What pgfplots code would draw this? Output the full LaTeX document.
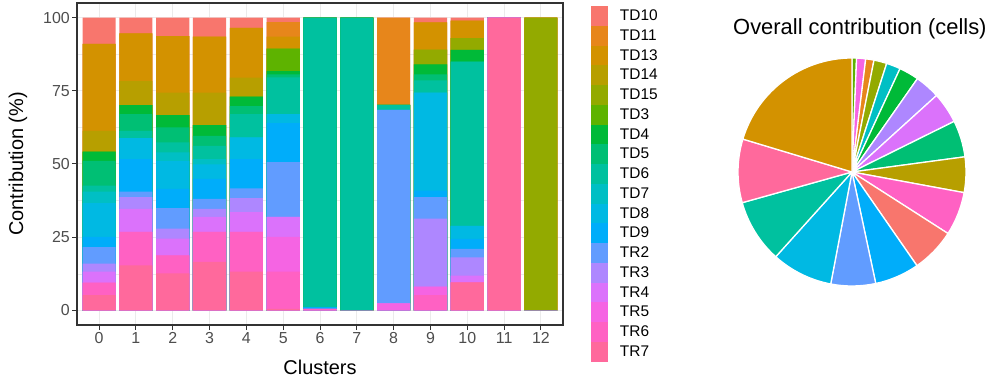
\documentclass[border=0pt]{standalone}
\usepackage{fontspec}
\setmainfont{Liberation Sans}
\usepackage{pgfplots}
\usepackage{pgfplotstable}
\pgfplotsset{compat=1.18}

% ggplot2 hue palette, 18 levels
\definecolor{cTD10}{HTML}{F8766D}
\definecolor{cTD11}{HTML}{E7861B}
\definecolor{cTD13}{HTML}{D39200}
\definecolor{cTD14}{HTML}{B79F00}
\definecolor{cTD15}{HTML}{93AA00}
\definecolor{cTD3}{HTML}{5EB300}
\definecolor{cTD4}{HTML}{00BA38}
\definecolor{cTD5}{HTML}{00BF74}
\definecolor{cTD6}{HTML}{00C19F}
\definecolor{cTD7}{HTML}{00BFC4}
\definecolor{cTD8}{HTML}{00B9E3}
\definecolor{cTD9}{HTML}{00ADFA}
\definecolor{cTR2}{HTML}{619CFF}
\definecolor{cTR3}{HTML}{AE87FF}
\definecolor{cTR4}{HTML}{DB72FB}
\definecolor{cTR5}{HTML}{F564E3}
\definecolor{cTR6}{HTML}{FF61C3}
\definecolor{cTR7}{HTML}{FF699C}
\definecolor{grey20}{HTML}{333333}
\definecolor{grey30}{HTML}{4D4D4D}
\definecolor{grey92}{HTML}{EBEBEB}

% contribution (%) of each sample to each cluster
\pgfplotstableread{
cl TD10 TD11 TD13 TD14 TD15 TD3 TD4 TD5 TD6 TD7 TD8 TD9 TR2 TR3 TR4 TR5 TR6 TR7
0  9.0  0    29.7 7.1  0    0   3.1 8.5 2.0  4.0 11.5 3.5  5.6  2.8  3.7 0    4.3  5.2
1  5.4  0    16.3 8.2  0    0   3.1 5.7 2.5  0   7.1  11.1 1.9  4.0  7.9 0    11.4 15.4
2  6.3  0    19.3 7.7  0    0   4.2 5.1 3.4  3.0 9.5  6.6  7.0  3.4  5.7 0    6.2  12.6
3  6.5  0    19.1 11.1 0    0   3.7 3.4 4.5  1.8 5.0  6.8  3.4  2.8  5.1 0    10.2 16.6
4  3.5  0    17.0 6.5  0    0   3.2 2.8 7.9  0   7.4  10.0 3.4  4.7  6.8 0    13.6 13.2
5  1.5  5.0  4.1  0    0    7.7 1.1 1.0 12.6 0   3.0  13.4 18.7 0    6.8 11.9 12.7 0.5
6  0    0    0    0    0    0   0   0   98.9 0   0    0.6  0    0    0   0    0.5  0
7  0    0    0    0    0    0   0   0   100  0   0    0    0    0    0   0    0    0
8  0    29.8 0    0    0    0   0   0   1.7  0   0    0    66.1 0    0   2.4  0    0
9  1.6  0    9.3  0    5.1  0   3.4 2.0 4.2  0   33.5 2.2  7.4  23.2 0   2.9  5.2  0
10 1.0  0    6.0  0    4.0  0   4.0 0   56.1 0   4.5  3.4  2.9  6.2  2.3 0    0    9.6
11 0    0    0    0    0    0   0   0   0    0   0    0    0    0    0   0    0    100
12 0    0    0    0    100  0   0   0   0    0   0    0    0    0    0   0    0    0
}\bardata

% running totals from the bottom of each bar (TR7) up to each sample
\pgfplotstablecreatecol[expr={\thisrow{TR7}}]{sTR7}\bardata
\pgfplotstablecreatecol[expr={\thisrow{sTR7}+\thisrow{TR6}}]{sTR6}\bardata
\pgfplotstablecreatecol[expr={\thisrow{sTR6}+\thisrow{TR5}}]{sTR5}\bardata
\pgfplotstablecreatecol[expr={\thisrow{sTR5}+\thisrow{TR4}}]{sTR4}\bardata
\pgfplotstablecreatecol[expr={\thisrow{sTR4}+\thisrow{TR3}}]{sTR3}\bardata
\pgfplotstablecreatecol[expr={\thisrow{sTR3}+\thisrow{TR2}}]{sTR2}\bardata
\pgfplotstablecreatecol[expr={\thisrow{sTR2}+\thisrow{TD9}}]{sTD9}\bardata
\pgfplotstablecreatecol[expr={\thisrow{sTD9}+\thisrow{TD8}}]{sTD8}\bardata
\pgfplotstablecreatecol[expr={\thisrow{sTD8}+\thisrow{TD7}}]{sTD7}\bardata
\pgfplotstablecreatecol[expr={\thisrow{sTD7}+\thisrow{TD6}}]{sTD6}\bardata
\pgfplotstablecreatecol[expr={\thisrow{sTD6}+\thisrow{TD5}}]{sTD5}\bardata
\pgfplotstablecreatecol[expr={\thisrow{sTD5}+\thisrow{TD4}}]{sTD4}\bardata
\pgfplotstablecreatecol[expr={\thisrow{sTD4}+\thisrow{TD3}}]{sTD3}\bardata
\pgfplotstablecreatecol[expr={\thisrow{sTD3}+\thisrow{TD15}}]{sTD15}\bardata
\pgfplotstablecreatecol[expr={\thisrow{sTD15}+\thisrow{TD14}}]{sTD14}\bardata
\pgfplotstablecreatecol[expr={\thisrow{sTD14}+\thisrow{TD13}}]{sTD13}\bardata
\pgfplotstablecreatecol[expr={\thisrow{sTD13}+\thisrow{TD11}}]{sTD11}\bardata
\pgfplotstablecreatecol[expr={\thisrow{sTD11}+\thisrow{TD10}}]{sTD10}\bardata

% overall contribution (% of cells), clockwise from 12 o'clock
\pgfplotstableread{
slice pct
TD3  0.64
TR5  1.28
TD11 1.17
TD15 1.83
TD7  2.00
TD4  2.81
TR3  3.56
TR4  4.39
TD5  5.19
TD14 5.03
TR6  6.17
TD10 6.28
TD9  6.31
TR2  6.33
TD8  8.67
TD6  9.00
TR7  9.00
TD13 20.34
}\piedata

\begin{document}
\begin{tikzpicture}
\useasboundingbox (0,0) rectangle (988bp,379bp);

% build the pie slices from the table
\def\pieR{114}
\pgfplotstablegetrowsof{\piedata}
\pgfmathtruncatemacro\lastslice{\pgfplotsretval-1}
\gdef\pieacc{0}
\gdef\pieslices{}
\foreach \i in {0,...,\lastslice}{%
  \pgfplotstablegetelem{\i}{slice}\of\piedata \let\slicename\pgfplotsretval
  \pgfplotstablegetelem{\i}{pct}\of\piedata \let\slicepct\pgfplotsretval
  \pgfmathsetmacro\angA{90-3.6*\pieacc}
  \pgfmathsetmacro\newacc{\pieacc+\slicepct}
  \pgfmathsetmacro\angB{90-3.6*\newacc}
  \pgfmathsetmacro\px{\pieR*cos(\angA)}
  \pgfmathsetmacro\py{\pieR*sin(\angA)}
  \xdef\pieacc{\newacc}
  \xdef\pieslices{\unexpanded\expandafter{\pieslices}%
    \noexpand\filldraw[fill=c\slicename, draw=white, line width=1.3bp, line join=round]
      (axis cs:0,0) -- (axis cs:\px,\py) arc[start angle=\angA, end angle=\angB, radius=\pieR bp] -- cycle;}%
}

\begin{axis}[
  at={(77bp,54bp)}, anchor=south west,
  scale only axis, width=486bp, height=322bp,
  xmin=-0.6, xmax=12.6, ymin=-5, ymax=105,
  ybar, bar width=0.9, bar shift=0pt,
  xtick={0,...,12}, ytick={0,25,50,75,100},
  minor ytick={12.5,37.5,62.5,87.5},
  tick pos=left, tick align=outside,
  major tick length=5bp, minor tick length=0pt,
  every tick/.style={draw=grey20, line width=1bp},
  axis line style={draw=grey20, line width=1.2bp},
  grid=both,
  major grid style={draw=grey92, line width=1bp},
  minor grid style={draw=grey92, line width=0.5bp},
  ticklabel style={font=\fontsize{16}{16}\selectfont, text=grey30, inner sep=2bp},
  /pgf/number format/assume math mode=true,
  xlabel={Clusters}, ylabel={Contribution (\%)},
  label style={font=\fontsize{20}{20}\selectfont},
  xlabel style={at={(axis description cs:0.5,-0.1304)}, anchor=center},
  ylabel style={at={(axis description cs:-0.1214,0.5)}, anchor=center},
  legend style={at={(axis description cs:1.0576,0.9904)}, anchor=north west,
    draw=none, fill=none, inner sep=0pt, outer sep=0pt,
    row sep=0pt, column sep=12bp,
    nodes={inner sep=0pt, outer sep=0pt},
    font=\fontsize{15.5}{16}\selectfont},
  legend cell align=left,
  key/.style={legend image code/.code={%
    \path (0bp,-9.88bp) rectangle (17bp,9.88bp);
    \fill[##1, draw=none] (0bp,-8.5bp) rectangle (17bp,8.5bp);}},
]
% each sample's bar runs from 0 to its running total; lower samples are drawn over it
\pgfplotsinvokeforeach{TD10,TD11,TD13,TD14,TD15,TD3,TD4,TD5,TD6,TD7,TD8,TD9,TR2,TR3,TR4,TR5,TR6,TR7}{
  \addplot[fill=c#1, draw=none, key] table[x=cl, y=s#1]{\bardata};
  \addlegendentry{#1}
}
\end{axis}

\begin{axis}[
  at={(852bp,207bp)}, anchor=center,
  x=1bp, y=1bp, hide axis, clip=false,
  xmin=-120, xmax=120, ymin=-120, ymax=120,
]
\pieslices
\end{axis}

\node[anchor=west, inner sep=0pt, font=\fontsize{22}{24}\selectfont] at (733bp,350bp) {Overall contribution (cells)};
\end{tikzpicture}
\end{document}
